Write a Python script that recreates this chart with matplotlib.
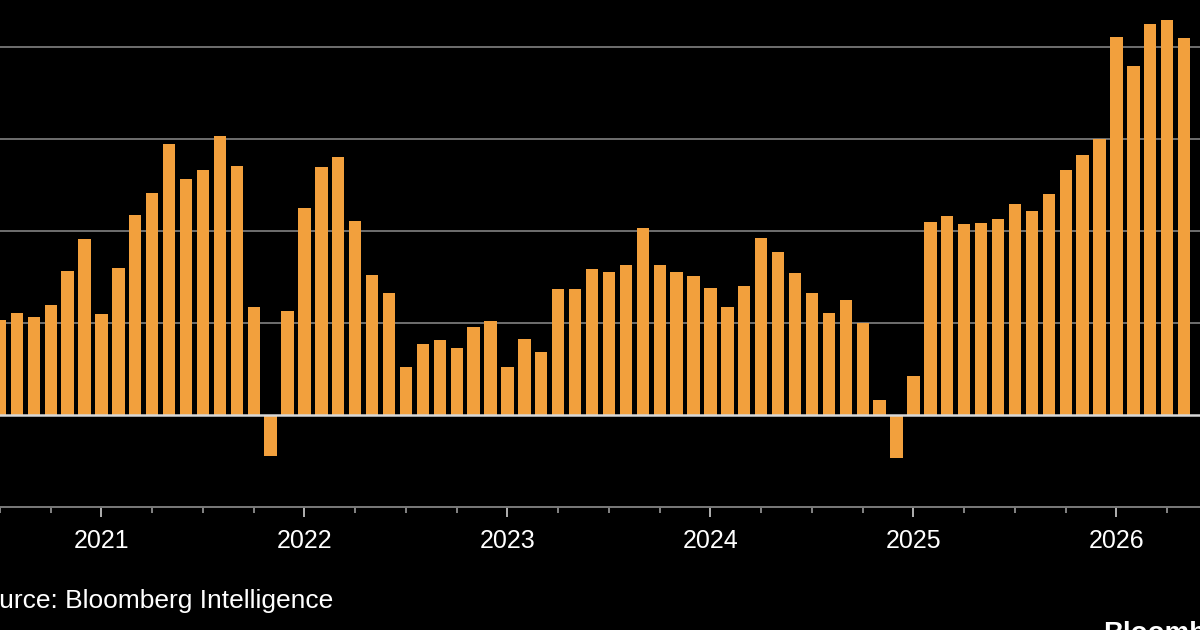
import numpy as np
import pandas as pd
import matplotlib
matplotlib.use("Agg")
import matplotlib.pyplot as plt

# Monthly values, Jul 2020 .. May 2026
months = pd.date_range("2020-07-01", periods=71, freq="MS")
values = [
    1.04, 1.11, 1.07, 1.20, 1.57, 1.92,                                   # 2020 H2
    1.10, 1.60, 2.18, 2.42, 2.95, 2.57, 2.67, 3.04, 2.71, 1.18, -0.44, 1.13,  # 2021
    2.25, 2.70, 2.81, 2.11, 1.53, 1.33, 0.53, 0.77, 0.82, 0.73, 0.96, 1.03,   # 2022
    0.53, 0.83, 0.69, 1.37, 1.37, 1.59, 1.56, 1.63, 2.04, 1.63, 1.56, 1.51,   # 2023
    1.38, 1.18, 1.41, 1.93, 1.78, 1.55, 1.33, 1.11, 1.25, 1.00, 0.17, -0.46,  # 2024
    0.43, 2.10, 2.17, 2.08, 2.09, 2.13, 2.30, 2.22, 2.40, 2.67, 2.83, 3.00,   # 2025
    4.11, 3.80, 4.25, 4.30, 4.10,                                          # 2026
]
gridlines = [1, 2, 3, 4]
source_text = "Source: Bloomberg Intelligence"
logo_text = "Bloomberg"

BAR = "#F2A03D"
BG = "#000000"

plt.rcParams["font.family"] = ["Liberation Sans", "DejaVu Sans"]

fig = plt.figure(figsize=(12, 6.3), dpi=100, facecolor=BG)
ax = fig.add_axes([0, 0.1948, 1, 0.8052])
ax.set_facecolor(BG)

x = np.arange(len(months))
ax.bar(x, values, width=0.73, color=BAR, zorder=3)

for g in gridlines:
    ax.axhline(g, color="#6e6e6e", lw=1.4, zorder=1)
ax.axhline(0, color="#d8d8d8", lw=1.8, zorder=4)

ax.set_xlim(0.0974, 70.94)
ax.set_ylim(-1, 4.514)

major = [i for i, m in enumerate(months) if m.month == 1]
minor = [i for i, m in enumerate(months) if m.month in (4, 7, 10)]
ax.set_xticks(major)
ax.set_xticklabels([str(months[i].year) for i in major])
ax.set_xticks(minor, minor=True)
ax.tick_params(axis="x", which="major", length=7, width=1.2, color="#cfcfcf",
               labelcolor="white", labelsize=18, pad=9)
ax.tick_params(axis="x", which="minor", length=4, width=1.2, color="#9a9a9a")
ax.set_yticks([])

for s in ("top", "left", "right"):
    ax.spines[s].set_visible(False)
ax.spines["bottom"].set_color("#7a7a7a")
ax.spines["bottom"].set_linewidth(1.4)

fig.text(-33 / 1200, 1 - 608 / 630, source_text, color="white", fontsize=19,
         ha="left", va="baseline")
fig.text(1103 / 1200, 1 - 621 / 630, logo_text, color="white", fontsize=20,
         fontweight="bold", ha="left", va="top")

fig.savefig("out.png", dpi=100, facecolor=BG)
